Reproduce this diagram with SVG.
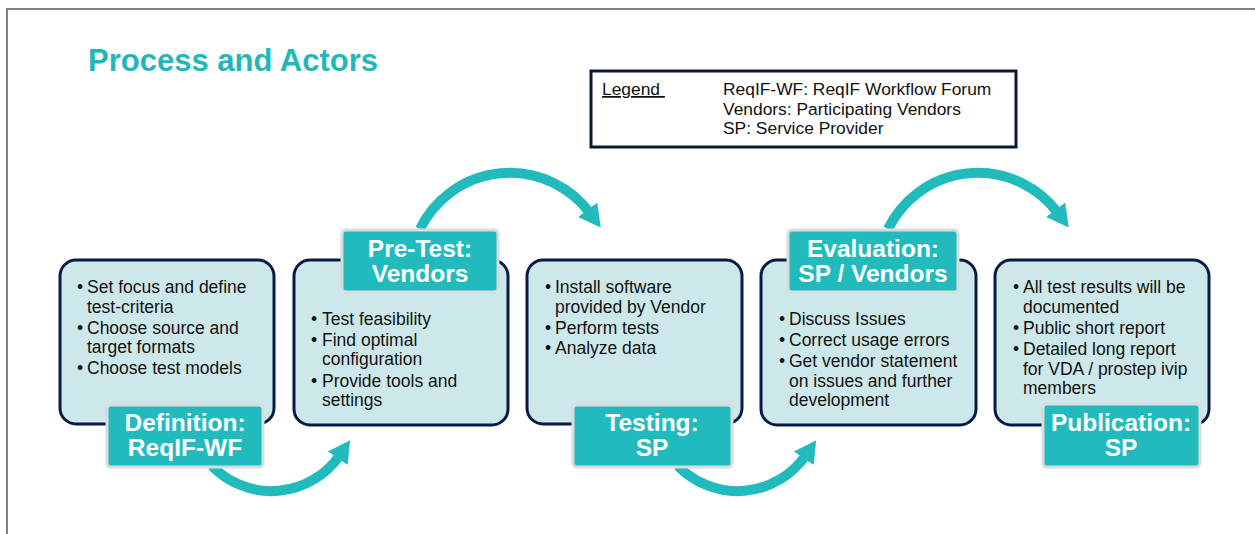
<svg xmlns="http://www.w3.org/2000/svg" width="1255" height="534" viewBox="0 0 1255 534">
  <style>
    .frame { fill: none; stroke: #5a5a5a; stroke-width: 1.5; }
    .title { font-family: "Liberation Sans", Arial, sans-serif; font-weight: bold; font-size: 31px; fill: #1fb8b9; }
    .legend-box { fill: #ffffff; stroke: #0b1733; stroke-width: 3; }
    .legend { font-family: "Liberation Sans", Arial, sans-serif; font-size: 17.4px; fill: #111111; }
    .step { fill: #cde8ea; stroke: #0b1a45; stroke-width: 3; }
    .tag { fill: #22bbbd; stroke: #d8dcdc; stroke-width: 3; }
    .tag-text { font-family: "Liberation Sans", Arial, sans-serif; font-weight: bold; font-size: 24.5px; fill: #ffffff; text-anchor: middle; }
    .body { font-family: "Liberation Sans", Arial, sans-serif; font-size: 17.5px; fill: #111111; }
    .flow { fill: none; stroke: #22bbbd; stroke-width: 10; }
    .head { fill: #22bbbd; }
  </style>
  <defs>
    <marker id="ah" markerUnits="userSpaceOnUse" markerWidth="26" markerHeight="26" viewBox="0 0 26 26" refX="4" refY="13" orient="auto">
      <path class="head" d="M0,1 L22,13 L0,25 Z"/>
    </marker>
  </defs>

  <rect class="frame" x="7" y="9" width="1262" height="540"/>
  <text class="title" x="88" y="71">Process and Actors</text>

  <g id="legend">
    <rect class="legend-box" x="591" y="71" width="425" height="76"/>
    <text class="legend" x="602" y="95" xml:space="preserve" text-decoration="underline">Legend </text>
    <text class="legend" x="723" y="95">ReqIF-WF: ReqIF Workflow Forum</text>
    <text class="legend" x="723" y="114.5">Vendors: Participating Vendors</text>
    <text class="legend" x="723" y="134">SP: Service Provider</text>
  </g>

  <!-- curved flow arrows between the steps -->
  <g id="connectors">
    <path class="flow" d="M212,466 A83,83 0 0 0 340,455" marker-end="url(#ah)"/>
    <path class="flow" d="M420,229 A100,100 0 0 1 590,213" marker-end="url(#ah)"/>
    <path class="flow" d="M678,466 A83,83 0 0 0 806,455" marker-end="url(#ah)"/>
    <path class="flow" d="M888,229 A100,100 0 0 1 1058,213" marker-end="url(#ah)"/>
  </g>

  <g id="definition">
    <rect class="step" x="60" y="260" width="214" height="164" rx="16"/>
    <text class="body" x="77" y="293">•</text>
    <text class="body" x="87" y="293">Set focus and define</text>
    <text class="body" x="87" y="312.5">test-criteria</text>
    <text class="body" x="77" y="333.5">•</text>
    <text class="body" x="87" y="333.5">Choose source and</text>
    <text class="body" x="87" y="353">target formats</text>
    <text class="body" x="77" y="374">•</text>
    <text class="body" x="87" y="374">Choose test models</text>
    <rect class="tag" x="107" y="405" width="156" height="62" rx="4"/>
    <text class="tag-text" x="185" y="431">Definition:</text>
    <text class="tag-text" x="185" y="456">ReqIF-WF</text>
  </g>

  <g id="pre-test">
    <rect class="step" x="294" y="260" width="214" height="165" rx="16"/>
    <text class="body" x="311" y="325">•</text>
    <text class="body" x="322" y="325">Test feasibility</text>
    <text class="body" x="311" y="346">•</text>
    <text class="body" x="322" y="346">Find optimal</text>
    <text class="body" x="322" y="365">configuration</text>
    <text class="body" x="311" y="387">•</text>
    <text class="body" x="322" y="387">Provide tools and</text>
    <text class="body" x="322" y="406">settings</text>
    <rect class="tag" x="342" y="230" width="156" height="62" rx="4"/>
    <text class="tag-text" x="420" y="257">Pre-Test:</text>
    <text class="tag-text" x="420" y="282">Vendors</text>
  </g>

  <g id="testing">
    <rect class="step" x="527" y="260" width="215" height="164" rx="16"/>
    <text class="body" x="545" y="293">•</text>
    <text class="body" x="555" y="293">Install software</text>
    <text class="body" x="555" y="312.5">provided by Vendor</text>
    <text class="body" x="545" y="333.5">•</text>
    <text class="body" x="555" y="333.5">Perform tests</text>
    <text class="body" x="545" y="354">•</text>
    <text class="body" x="555" y="354">Analyze data</text>
    <rect class="tag" x="573" y="405" width="159" height="62" rx="4"/>
    <text class="tag-text" x="652" y="431">Testing:</text>
    <text class="tag-text" x="652" y="456">SP</text>
  </g>

  <g id="evaluation">
    <rect class="step" x="761" y="260" width="215" height="165" rx="16"/>
    <text class="body" x="779" y="325">•</text>
    <text class="body" x="789" y="325">Discuss Issues</text>
    <text class="body" x="779" y="346">•</text>
    <text class="body" x="789" y="346">Correct usage errors</text>
    <text class="body" x="779" y="367">•</text>
    <text class="body" x="789" y="367">Get vendor statement</text>
    <text class="body" x="789" y="386.5">on issues and further</text>
    <text class="body" x="789" y="406">development</text>
    <rect class="tag" x="788" y="230" width="170" height="62" rx="4"/>
    <text class="tag-text" x="873" y="257">Evaluation:</text>
    <text class="tag-text" x="873" y="282">SP / Vendors</text>
  </g>

  <g id="publication">
    <rect class="step" x="995" y="260" width="214" height="165" rx="16"/>
    <text class="body" x="1013" y="293">•</text>
    <text class="body" x="1023" y="293">All test results will be</text>
    <text class="body" x="1023" y="312.5">documented</text>
    <text class="body" x="1013" y="333.5">•</text>
    <text class="body" x="1023" y="333.5">Public short report</text>
    <text class="body" x="1013" y="355">•</text>
    <text class="body" x="1023" y="355">Detailed long report</text>
    <text class="body" x="1023" y="374.5">for VDA / prostep ivip</text>
    <text class="body" x="1023" y="394">members</text>
    <rect class="tag" x="1043" y="404" width="157" height="63" rx="4"/>
    <text class="tag-text" x="1121" y="431">Publication:</text>
    <text class="tag-text" x="1121" y="456">SP</text>
  </g>
</svg>
